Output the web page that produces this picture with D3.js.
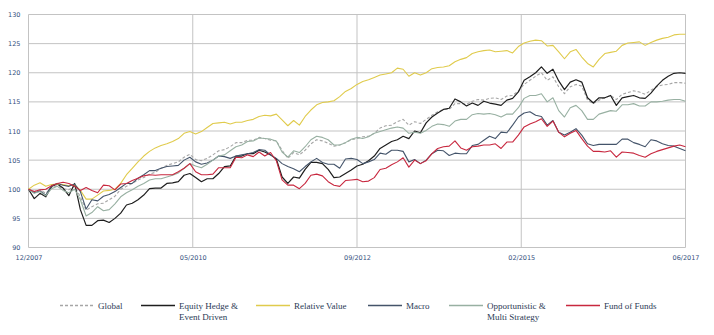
<!DOCTYPE html>
<html>
<head>
<meta charset="utf-8">
<script src="https://cdn.jsdelivr.net/npm/d3@7"></script>
<style>
  html, body { margin: 0; padding: 0; background: #fff; }
  svg { display: block; }
</style>
</head>
<body>
<script>
'use strict';

// monthly index levels, 12/2007 = 100, through 06/2017 (115 months)
const xTickLabels = ["12/2007", "05/2010", "09/2012", "02/2015", "06/2017"];
const yTicks = [90, 95, 100, 105, 110, 115, 120, 125, 130];

const seriesNames = ["Global", "Equity Hedge & Event Driven", "Relative Value",
  "Macro", "Opportunistic & Multi Strategy", "Fund of Funds"];

const globalIdx = [
  100, 99.6, 99.9, 99.3, 100.3, 100.6, 100.1, 99.9, 100.5, 98.7,
  96.4, 97, 97.5, 97.6, 98.2, 98.8, 100, 100.5, 101, 101.6,
  102, 102.6, 102.9, 103.6, 104.1, 104.4, 104.7, 105.5, 106, 105.1,
  104.9, 105.3, 105.9, 106.6, 106.8, 107.3, 108, 108, 108.4, 108.4,
  108.9, 108.7, 108.4, 108.3, 106.7, 105.3, 106.3, 105.9, 106.7, 107.8,
  108.5, 108.3, 107.9, 107.4, 107.6, 108, 108.5, 108.7, 109, 109.1,
  109.6, 110.5, 110.9, 111, 111.6, 112, 111, 111.6, 111.3, 112,
  112.7, 113.3, 113.7, 113.7, 114.7, 114.7, 114.6, 115.1, 115.4, 115.3,
  115.6, 115.7, 115.4, 116, 116.1, 116.9, 118, 118.7, 119.4, 120,
  118.7, 119.3, 117.6, 116.4, 117.6, 118, 117.7, 115.3, 114.7, 115.3,
  115.7, 116.1, 115.4, 116.3, 116.6, 116.9, 116.7, 116.3, 117, 117.6,
  117.9, 118, 118.3, 118.3, 118.2
];

const equityHedge = [
  100, 98.4, 99.3, 98.7, 100.5, 100.9, 100.2, 98.9, 101, 96.5,
  93.8, 93.8, 94.6, 94.7, 94.3, 95, 95.9, 97.3, 97.6, 98.2,
  99, 100.1, 100.2, 100.2, 101, 101.1, 101.3, 102.4, 102.7, 102,
  101.3, 101.8, 101.8, 102.7, 103.9, 104, 105.7, 105.7, 106.1, 106.1,
  106.7, 106.4, 105.9, 105.2, 102.1, 101, 102.1, 101.9, 103.4, 104.6,
  104.6, 104.4, 103.4, 102, 102.1, 102.7, 103.3, 104, 104.3, 104.9,
  105.7, 107, 107.6, 108.2, 108.5, 109.1, 108.7, 110, 109.7, 111.4,
  112.4, 113.1, 113.7, 113.9, 115.5, 115, 114.3, 114.8, 114.4, 115.1,
  114.8, 114.6, 114.4, 115.3, 115.6, 116.7, 118.7, 119.3, 120, 121,
  119.9, 120.6, 118.6, 117.1, 118.4, 118.8, 118.4, 115.7, 114.8, 115.7,
  115.7, 116.1, 114.4, 115.7, 115.9, 116.1, 115.7, 115.6, 116.5, 117.7,
  118.7, 119.4, 119.9, 120, 119.9
];

const relativeValue = [
  100, 100.7, 101.1, 100.5, 100.8, 100.9, 100.8, 100.6, 100.8, 99.8,
  98.3, 98.3, 99, 99.7, 99.8, 100, 101, 102.5, 103.6, 104.7,
  105.7, 106.5, 107.1, 107.5, 107.8, 108.2, 108.7, 109.6, 109.9, 109.5,
  109.9, 110.6, 111.3, 111.4, 111.5, 111.2, 111.5, 111.5, 111.8, 112,
  112.5, 112.7, 112.6, 112.9, 111.9, 110.9, 111.8, 111, 112.5, 113.6,
  114.5, 114.9, 115, 115.2, 115.9, 116.8, 117.3, 118, 118.5, 118.8,
  119.2, 119.6, 119.8, 120, 120.8, 120.6, 119.4, 120, 119.6, 120,
  120.7, 120.9, 121, 121.2, 121.9, 122.3, 122.6, 123.3, 123.6, 123.8,
  123.9, 123.6, 123.7, 123.8, 123.4, 124.5, 125.1, 125.4, 125.6, 125.5,
  124.6, 124.7, 123.6, 122.4, 123.6, 124, 122.7, 121.6, 121, 122.3,
  123.3, 123.5, 123.7, 124.7, 125.1, 125.2, 125.3, 124.7, 125.2, 125.6,
  125.9, 126.1, 126.5, 126.6, 126.6
];

const macro = [
  100, 99.4, 99.7, 99, 100.6, 101, 100.7, 100.5, 100.9, 99.6,
  96.6, 98.2, 98, 98.8, 99.1, 99.6, 100.3, 101, 101, 101.9,
  102.5, 103.2, 103.2, 103.6, 103.9, 104, 104.1, 105, 105.5, 104.7,
  104.3, 104.5, 105, 105.7, 105.6, 105.3, 105.7, 105.9, 106.1, 106.3,
  106.8, 106.7, 105.9, 105.3, 104.4, 103.9, 103.5, 103, 103.9, 104.7,
  105.3, 104.6, 104.3, 104.3, 103.6, 105.2, 105.3, 105.1, 104.4, 104.7,
  105.1, 106.2, 106, 106.7, 106.7, 106.5, 104.7, 105.1, 104.4, 105,
  106.1, 106.7, 106.6, 105.8, 106.2, 106.1, 106.1, 107.5, 107.7, 108.4,
  109.1, 108.7, 109.8, 109.7, 111, 112.4, 113.1, 113.3, 112.7, 112.5,
  111, 111.8, 109.8, 109.3, 109.8, 110.4, 109.3, 107.8, 107.5, 107.7,
  107.7, 107.7, 107.7, 108.6, 108.6, 108, 107.7, 107.3, 108.5, 108.3,
  107.8, 107.5, 107.4, 107, 106.6
];

const opportunistic = [
  100, 99.3, 99.6, 98.9, 100.1, 100.5, 99.8, 99.4, 100, 98.2,
  95.4, 96, 97, 96.3, 96.5, 97.5, 98.7, 99.4, 99.9, 100.5,
  101, 101.6, 101.8, 101.8, 102.1, 102.4, 102.8, 103.6, 104.4, 104,
  103.7, 104.3, 105, 105.7, 105.9, 106.6, 107.3, 107.6, 108.2, 108.3,
  108.8, 108.7, 108.6, 108.3, 106.4, 105.5, 106.6, 106.3, 107.3, 108.5,
  109.1, 108.9, 108.5, 107.6, 107.6, 108, 108.6, 108.9, 108.7, 109,
  109.6, 109.9, 110.2, 110.5, 110.7, 110.5, 109.6, 109.8, 109.6, 110.1,
  110.8, 111.2, 111.1, 110.8, 111.7, 112, 112, 112.8, 113, 112.9,
  113, 112.8, 112.4, 112.9, 112.9, 114, 115.6, 116.1, 116.1, 116.4,
  115, 115.7, 113.5, 112.4, 114, 114.4, 113.5, 112, 112, 112.9,
  113.2, 113.5, 113.4, 114.5, 114.5, 114.7, 114.3, 114.3, 115, 115,
  115.1, 115.3, 115.4, 115.4, 115.1
];

const fundOfFunds = [
  100, 99.6, 99.9, 100, 100.6, 101, 101.2, 101, 100.5, 99.8,
  100.3, 99.8, 99.4, 100.7, 100.6, 99.9, 100.9, 101, 101.5, 101.9,
  102.3, 102.5, 102.4, 102.5, 102.5, 102.5, 103, 103.6, 104.4, 103,
  102.5, 102.5, 102.6, 103.7, 103.7, 103.7, 105.5, 105.4, 105.9, 105.6,
  106.4, 105.7, 106.3, 104.9, 101.6, 100.7, 100.7, 100.1, 101, 102.4,
  102.6, 102.3, 101.3, 100.7, 100.5, 101.5, 101.6, 101.7, 101.3, 101.4,
  102, 103.4, 103.6, 104.2, 104.7, 105.4, 103.8, 105, 104.4, 104.9,
  106.1, 107, 107.3, 107.4, 108.3, 107.1, 106.7, 107.3, 107.4, 107.6,
  107.6, 107.8, 107, 108.1, 108.1, 109.3, 110.7, 111.2, 111.6, 112.1,
  110.8, 111.7, 109.8, 109, 109.6, 110.1, 108.7, 107.4, 106.5, 106.5,
  106.4, 106.6, 105.5, 106.4, 106.3, 106.2, 105.8, 105.5, 106.1, 106.5,
  106.8, 107.1, 107.4, 107.6, 107.3
];

(function() {

    const W = 714, H = 335;
    const plot = { left: 28.5, right: 685.5, top: 14.5, bottom: 247.5 };

    const styles = [
        { color: "#a6a6a6", width: 1.1, dash: "3,2" },
        { color: "#1e1e1e", width: 1.2, dash: null },
        { color: "#e0cb4c", width: 1.1, dash: null },
        { color: "#44546a", width: 1.1, dash: null },
        { color: "#98b0a2", width: 1.1, dash: null },
        { color: "#c8283f", width: 1.1, dash: null }
    ];

    const allSeries = [globalIdx, equityHedge, relativeValue, macro, opportunistic, fundOfFunds];
    const nMonths = globalIdx.length - 1;

    const svg = d3.select("body").append("svg")
        .attr("width", W)
        .attr("height", H);

    const x = d3.scaleLinear()
        .domain([0, nMonths])
        .range([plot.left, plot.right]);

    const y = d3.scaleLinear()
        .domain([90, 130])
        .range([plot.bottom, plot.top]);

    // x labels sit on quarter points of the range
    const xTickPos = xTickLabels.map((d, i) => nMonths * i / (xTickLabels.length - 1));

    // horizontal grid
    svg.append("g")
        .selectAll("line")
        .data(yTicks)
        .enter()
        .append("line")
        .attr("x1", plot.left)
        .attr("x2", plot.right)
        .attr("y1", (d) => y(d))
        .attr("y2", (d) => y(d))
        .attr("stroke", "#c3c3c3")
        .attr("stroke-width", 1);

    // vertical grid
    svg.append("g")
        .selectAll("line")
        .data(xTickPos)
        .enter()
        .append("line")
        .attr("x1", (d) => x(d))
        .attr("x2", (d) => x(d))
        .attr("y1", plot.top)
        .attr("y2", plot.bottom)
        .attr("stroke", "#c3c3c3")
        .attr("stroke-width", 1);

    // y axis labels
    const yAxis = d3.axisLeft(y)
        .tickValues(yTicks)
        .tickSize(0)
        .tickPadding(8);
    const gy = svg.append("g")
        .attr("transform", "translate(" + plot.left + ",0)")
        .call(yAxis);
    gy.select(".domain").remove();

    // x axis labels
    const xAxis = d3.axisBottom(x)
        .tickValues(xTickPos)
        .tickFormat((d, i) => xTickLabels[i])
        .tickSize(0)
        .tickPadding(8);
    const gx = svg.append("g")
        .attr("transform", "translate(0," + plot.bottom + ")")
        .call(xAxis);
    gx.select(".domain").remove();

    svg.selectAll(".tick text")
        .attr("font-family", "'DejaVu Sans', sans-serif")
        .attr("font-size", "6.5px")
        .attr("fill", "#34507e");

    // series lines
    const line = d3.line()
        .x((d, i) => x(i))
        .y((d) => y(d));

    svg.append("g")
        .selectAll("path")
        .data(allSeries)
        .enter()
        .append("path")
        .attr("d", line)
        .attr("fill", "none")
        .attr("stroke", (d, i) => styles[i].color)
        .attr("stroke-width", (d, i) => styles[i].width)
        .attr("stroke-dasharray", (d, i) => styles[i].dash)
        .attr("stroke-linejoin", "round");

    // legend
    const legendX = [60, 141, 256, 368, 449, 566];
    const legendLines = [["Global"], ["Equity Hedge &", "Event Driven"], ["Relative Value"],
        ["Macro"], ["Opportunistic &", "Multi Strategy"], ["Fund of Funds"]];

    const legend = svg.append("g")
        .selectAll("g")
        .data(seriesNames)
        .enter()
        .append("g")
        .attr("transform", (d, i) => "translate(" + legendX[i] + ",305)");

    legend.append("line")
        .attr("x1", 0)
        .attr("x2", 34)
        .attr("y1", 0.5)
        .attr("y2", 0.5)
        .attr("stroke", (d, i) => styles[i].color)
        .attr("stroke-width", 1.3)
        .attr("stroke-dasharray", (d, i) => styles[i].dash);

    legend.append("text")
        .attr("x", 38)
        .attr("y", 3.5)
        .attr("font-family", "'Liberation Serif', serif")
        .attr("font-size", "9px")
        .attr("fill", "#2b3a55")
        .selectAll("tspan")
        .data((d, i) => legendLines[i])
        .enter()
        .append("tspan")
        .attr("x", 38)
        .attr("dy", (d, j) => j === 0 ? 0 : 11)
        .text((d) => d);

})();
</script>
</body>
</html>
